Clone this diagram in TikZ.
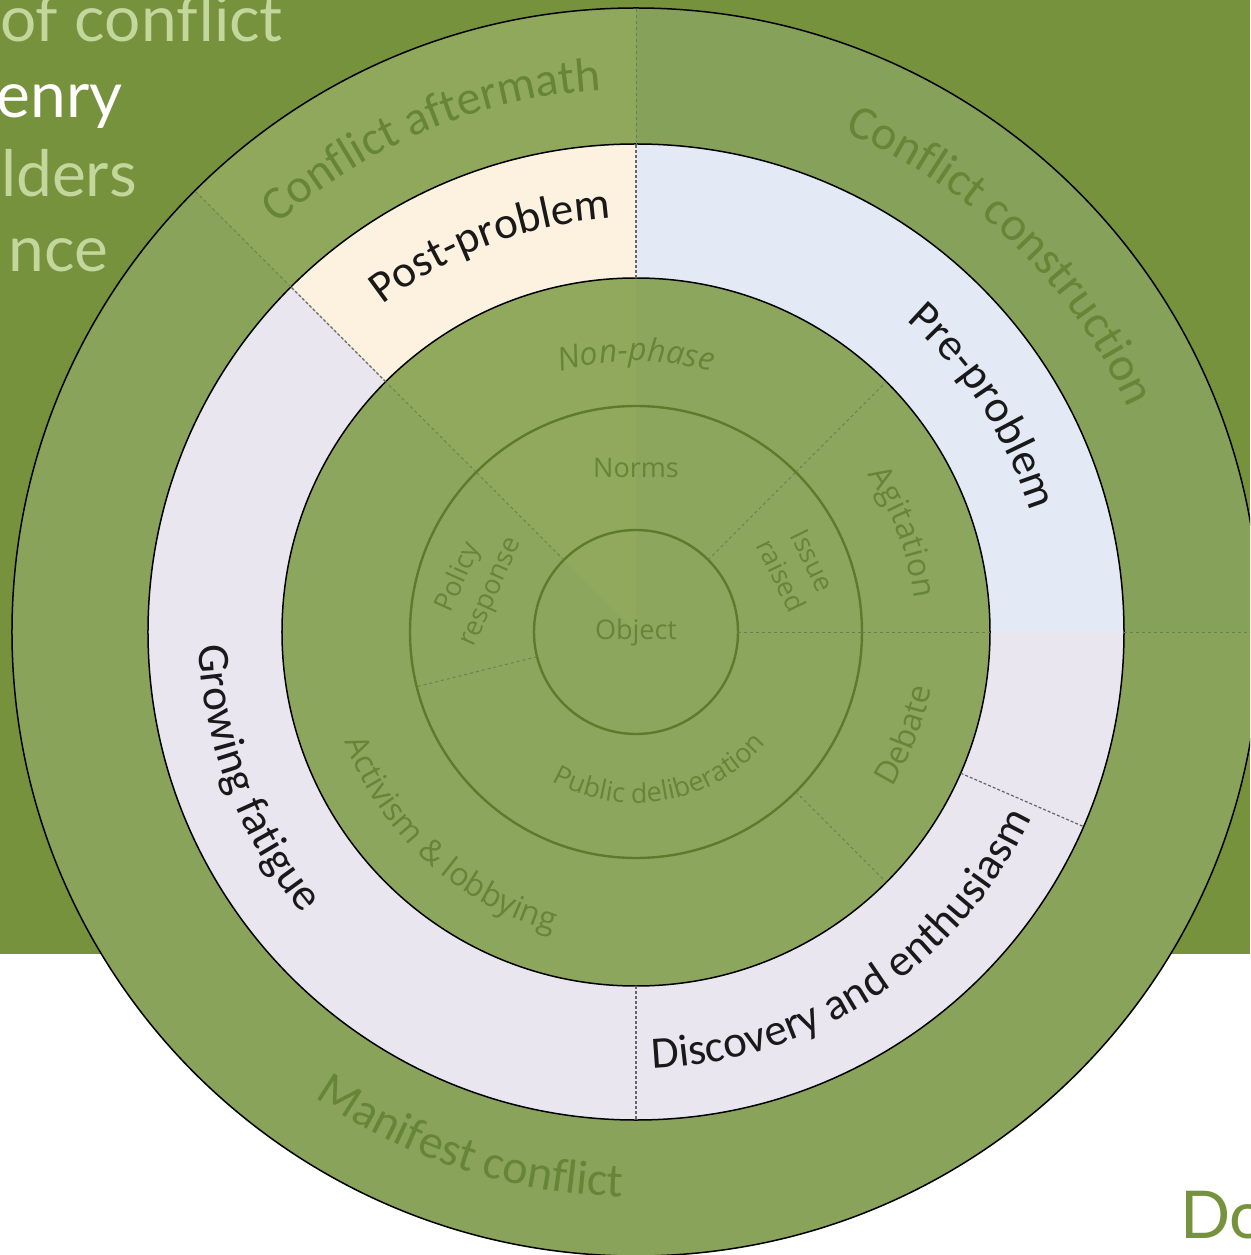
\documentclass[tikz,border=0pt]{standalone}
\usepackage{fontspec}
\setmainfont{Carlito}
\newfontfamily\labelsans{Open Sans}
\newfontfamily\titlesans{Lato}
\usetikzlibrary{decorations.text}

\definecolor{bggreen}{HTML}{76923C}
\definecolor{ringgreen}{HTML}{8AA35A}
\definecolor{aftgreen}{HTML}{8FA85C}
\definecolor{consgreen}{HTML}{86A15A}
\definecolor{innergreen}{HTML}{8DA65E}
\definecolor{wedgegreen}{HTML}{91A95C}
\definecolor{labelgreen}{HTML}{678537}
\definecolor{circlegreen}{HTML}{5E7B2B}
\definecolor{dashgreen}{HTML}{6A7F4A}
\definecolor{preblue}{HTML}{E3EAF5}
\definecolor{postorange}{HTML}{FDF1DF}
\definecolor{lavender}{HTML}{E9E6F0}
\definecolor{headgreen}{HTML}{C3D69B}

\tikzstyle{ringline} = [draw=black,line width=1.5pt]
\tikzstyle{innerline} = [draw=circlegreen,line width=2.4pt]
\tikzstyle{greendash} = [draw=dashgreen,dashed,line width=0.9pt]
\tikzstyle{banddash} = [draw=black!60,dash pattern=on 3pt off 2pt,line width=1.2pt]
\tikzstyle{headtext} = [font=\titlesans\fontsize{64}{70}\selectfont,anchor=base east,inner sep=0pt]
\tikzstyle{ringtext} = [font=\labelsans\fontsize{27}{35}\selectfont,text=labelgreen,align=center,inner sep=0pt]

\newcommand{\outerfont}{\fontsize{48}{52}\selectfont\color{labelgreen}}
\newcommand{\bandfont}{\fontsize{45}{48}\selectfont\color{black!90}}
\newcommand{\ringfont}{\labelsans\fontsize{32}{36}\selectfont\color{labelgreen}}
\newcommand{\middlefont}{\labelsans\fontsize{27}{30}\selectfont\color{labelgreen}}
% text on an arc: format, radius, start angle, end angle, text
\newcommand{\arclabel}[5]{%
  \path[decorate,decoration={text along path,text align=center,text={|#1|#5}}]
    (#3:#2) arc[start angle=#3,end angle=#4,radius=#2];}

\begin{document}
\begin{tikzpicture}[x=1pt,y=1pt]
  \useasboundingbox (-636,-623) rectangle (614,632);
  \clip (-636,-623) rectangle (614,632);
  %% background
  \fill[white] (-636,-623) rectangle (614,632);
  \fill[bggreen] (-636,-322) rectangle (614,632);

  %% outer ring, phase band, inner rings
  \foreach \from/\to/\col in {0/90/consgreen, 90/135/aftgreen, 135/360/ringgreen}
    \fill[\col] (0,0) -- (\from:624) arc[start angle=\from,end angle=\to,radius=624] -- cycle;
  \foreach \from/\to/\col in {0/90/preblue, 90/135/postorange, 135/360/lavender}
    \fill[\col] (0,0) -- (\from:488) arc[start angle=\from,end angle=\to,radius=488] -- cycle;
  \fill[innergreen] (0,0) circle[radius=354];
  \fill[wedgegreen] (0,0) -- (90:354) arc[start angle=90,end angle=135,radius=354] -- cycle;

  %% circles
  \draw[ringline] (0,0) circle[radius=624];
  \draw[ringline] (0,0) circle[radius=488];
  \draw[ringline] (0,0) circle[radius=354];
  \draw[innerline] (0,0) circle[radius=226];
  \draw[innerline] (0,0) circle[radius=102];

  %% dividers
  \foreach \ang/\rin/\rout in {90/488/624, 135/488/624, 0/488/624,
    135/226/354, 45/226/354, 0/226/354, -45/226/354,
    135/102/226, 45/102/226, 0/102/226, 194/102/226}
    \draw[greendash] (\ang:\rin) -- (\ang:\rout);
  \foreach \ang in {90, 135, 270, -23.5}
    \draw[banddash] (\ang:354) -- (\ang:488);

  %% outer ring labels
  \arclabel{\outerfont}{543}{152.5}{72.5}{Conflict aftermath}
  \arclabel{\outerfont}{541}{90.9}{0.9}{Conflict construction}
  \arclabel{\outerfont}{565}{212}{292}{Manifest conflict}

  %% phase band labels
  \arclabel{\bandfont}{414}{150.6}{70.6}{Post-problem}
  \arclabel{\bandfont}{412}{73}{-7}{Pre-problem}
  \arclabel{\bandfont}{437}{253.5}{353.5}{Discovery and enthusiasm}
  \arclabel{\bandfont}{437}{161}{241}{Growing fatigue}

  %% inner ring labels
  \arclabel{\ringfont\itshape}{271}{130}{50}{Non-phase}
  \arclabel{\ringfont}{280}{50.5}{-9.5}{Agitation}
  \arclabel{\ringfont}{300}{-51}{9}{Debate}
  \arclabel{\ringfont}{311}{177.6}{277.6}{Activism {\&} lobbying}
  \arclabel{\middlefont}{171}{220}{340}{Public deliberation}

  \node[ringtext] (norms) at (0,164) {Norms};
  \node[ringtext] (object) at (0,0) {Object};
  \node[ringtext,rotate=-64] (issue) at (161,64) {Issue\\raised};
  \node[ringtext,rotate=66] (policy) at (-161,47) {Policy\\response};

  %% slide text around the figure
  \node[headtext,text=headgreen] (line1) at (-353,590) {of conflict};
  \node[headtext,text=white] (line2) at (-513,514) {enry};
  \node[headtext,text=headgreen] (line3) at (-499,435) {lders};
  \node[headtext,text=headgreen] (line4) at (-528,360) {nce};
  \node[headtext,anchor=base west,text=bggreen,font=\titlesans\fontsize{66}{70}\selectfont] (corner) at (544,-606) {Do};
\end{tikzpicture}
\end{document}
